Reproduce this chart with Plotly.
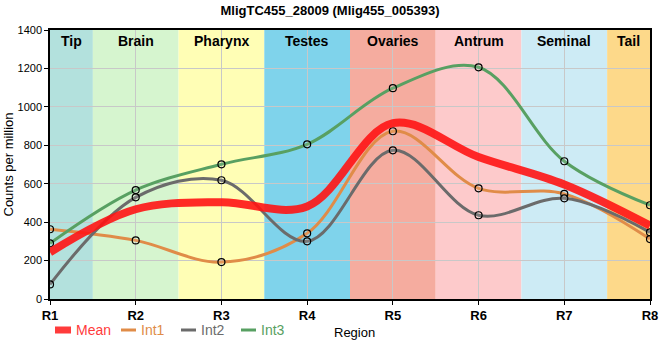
import plotly.graph_objects as go

regions = ["R1", "R2", "R3", "R4", "R5", "R6", "R7", "R8"]
int1 = [363, 305, 192, 342, 873, 576, 547, 312]
int2 = [76, 529, 618, 300, 774, 436, 524, 347]
int3 = [290, 567, 701, 805, 1097, 1206, 717, 488]
mean = [round((a + b + c) / 3) for a, b, c in zip(int1, int2, int3)]

tissues = ["Tip", "Brain", "Pharynx", "Testes", "Ovaries", "Antrum", "Seminal", "Tail"]
tissue_colors = ["#B3E1DD", "#D6F5CF", "#FFFEB5", "#7FD3EB", "#F5AC9F",
                 "#FDCACB", "#CDEBF5", "#FDD98A"]

NARROW = "Liberation Sans Narrow, Arial Narrow, sans-serif"
SANS = "Liberation Sans, Arial, sans-serif"

# plot area in pixels: x 50..650, y 30..299
L, R, T, B = 50, 650, 30, 299
def px(xp):
    return (xp - L) / (R - L)
def py(yp):
    return (B - yp) / (B - T)

x = list(range(len(regions)))
fig = go.Figure()

series = [("Int1", int1, "#E08C48"), ("Int2", int2, "#6B6B6B"), ("Int3", int3, "#58A062")]
for name, vals, col in series:
    fig.add_trace(go.Scatter(
        x=x, y=vals, mode="lines+markers", name=name, showlegend=False,
        line=dict(color=col, width=3, shape="spline", smoothing=1),
        marker=dict(size=7, color="rgba(255,255,255,0.1)", line=dict(color="black", width=1.2)),
    ))

mean_col = "rgba(255,20,20,0.9)"
fig.add_trace(go.Scatter(
    x=x, y=mean, mode="lines", name="Mean", showlegend=False,
    line=dict(color=mean_col, width=8, shape="spline", smoothing=1),
))

shapes = []
annotations = []
for i, (t, c) in enumerate(zip(tissues, tissue_colors)):
    x0 = max(i - 0.5, 0)
    x1 = min(i + 0.5, len(regions) - 1)
    shapes.append(dict(type="rect", xref="x", yref="paper", x0=x0, x1=x1, y0=0, y1=1,
                       fillcolor=c, line=dict(width=0), layer="below"))
    annotations.append(dict(x=(x0 + x1) / 2, y=py(41), xref="x", yref="paper", yanchor="middle",
                            text=f"<b>{t}</b>", showarrow=False,
                            font=dict(size=14, color="black", family=SANS)))

# custom legend (symbols as shapes, labels as text)
legend_items = [("Mean", "#FF3B3B", 55, 71, 74, "rect"),
                ("Int1", "#E08C48", 121, 136, 139, "line"),
                ("Int2", "#6B6B6B", 181, 196, 199, "line"),
                ("Int3", "#58A062", 241, 256, 259, "line")]
ly = 330
for name, col, s0, s1, tx, kind in legend_items:
    if kind == "rect":
        shapes.append(dict(type="rect", xref="paper", yref="paper", x0=px(s0), x1=px(s1),
                           y0=py(ly + 3.5), y1=py(ly - 3.5), fillcolor=col, line=dict(width=0)))
    else:
        shapes.append(dict(type="line", xref="paper", yref="paper", x0=px(s0), x1=px(s1),
                           y0=py(ly), y1=py(ly), line=dict(color=col, width=3)))
    annotations.append(dict(x=px(tx), y=py(ly), xref="paper", yref="paper", xanchor="left",
                            yanchor="middle", text=name, showarrow=False,
                            font=dict(size=14, color=col, family=SANS)))

annotations.append(dict(x=px(354), y=py(332), xref="paper", yref="paper", yanchor="middle",
                        text="Region", showarrow=False, font=dict(size=13, color="black", family=SANS)))
annotations.append(dict(x=px(8), y=0.5, xref="paper", yref="paper", xanchor="center",
                        yanchor="middle", textangle=-90, text="Counts per million",
                        showarrow=False, font=dict(size=13, color="black", family=SANS)))

fig.update_layout(
    width=660, height=360,
    margin=dict(l=L, r=660 - R, t=T, b=360 - B, autoexpand=False),
    paper_bgcolor="white", plot_bgcolor="white",
    title=dict(text="<b>MligTC455_28009 (Mlig455_005393)</b>", x=0.5, xanchor="center",
               y=1 - 10 / 360, yanchor="middle", font=dict(size=13, color="black", family=NARROW)),
    font=dict(family=SANS, size=12, color="black"),
    shapes=shapes, annotations=annotations,
    showlegend=False,
)
fig.update_xaxes(
    range=[0, len(regions) - 1], tickvals=x, ticktext=[f"<b>{r}</b>" for r in regions],
    showgrid=True, gridcolor="#C8C8C8", gridwidth=1, automargin=False,
    showline=True, linecolor="black", linewidth=1.5, mirror=True,
    ticks="outside", ticklen=4, tickcolor="black", zeroline=False,
    tickfont=dict(size=13, family=NARROW),
)
fig.update_yaxes(
    range=[0, 1400], dtick=200, automargin=False,
    showgrid=True, gridcolor="#C8C8C8", gridwidth=1,
    showline=True, linecolor="black", linewidth=1.5, mirror=True,
    ticks="outside", ticklen=4, tickcolor="black", zeroline=False,
    tickfont=dict(size=11, family=SANS),
)

fig.write_html("out.html", config={"displayModeBar": False},
               post_script="document.body.style.margin='0';document.body.style.overflow='hidden';")
